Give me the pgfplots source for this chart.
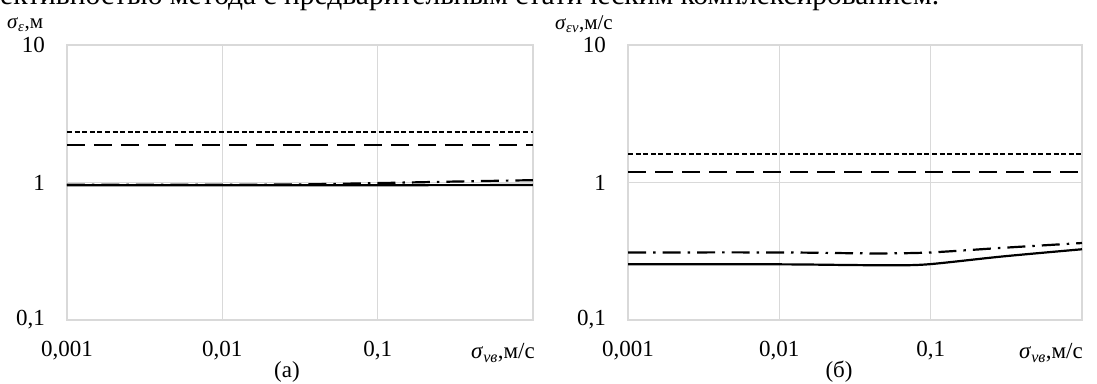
\documentclass[border=0pt]{standalone}
\usepackage{fontspec}
\setmainfont{Liberation Serif}
\usepackage{pgfplots}
\pgfplotsset{compat=1.18}
\definecolor{gridc}{HTML}{D9D9D9}
\newcommand{\tl}{\fontsize{23}{27}\selectfont}
\newcommand{\al}{\fontsize{21}{24}\selectfont}
\tikzset{
 sdot/.style={black, line width=2.2pt, dash pattern=on 5pt off 2.6pt},
 ldash/.style={black, line width=2.2pt, dash pattern=on 18pt off 9pt},
 ddot/.style={black, line width=2.2pt, dash pattern=on 18pt off 7pt on 2.5pt off 7pt},
 sline/.style={black, line width=2.2pt, solid},
}
\pgfplotsset{every axis/.append style={
 scale only axis, height=275pt,
 xmin=0.001, xmax=1, ymin=0.1, ymax=10,
 axis line style={draw=gridc, line width=1.2pt},
 grid=major, major grid style={draw=gridc, line width=1.2pt},
 xtick={0.001,0.01,0.1}, xticklabels={{0,001},{0,01},{0,1}},
 ytick={0.1,1,10}, yticklabels={{0,1},{1},{10}},
 minor xtick={}, minor ytick={},
 major tick length=0pt, minor tick length=0pt,
 tick style={draw=none},
 tick label style={font=\tl, inner sep=0pt},
 xticklabel style={anchor=center, yshift=-31pt},
 yticklabel style={anchor=east, xshift=-22pt},
}}
\begin{document}
\begin{tikzpicture}
\begin{loglogaxis}[width=466pt, at={(67pt,63pt)}, anchor=south west]
\addplot[sdot] coordinates {(0.001,2.33) (1,2.33)};
\addplot[ldash] coordinates {(0.001,1.88) (1,1.88)};
\addplot[ddot, smooth] coordinates {(0.001,0.965) (0.01,0.965) (0.03,0.968) (0.1,0.99) (0.3,1.015) (1,1.04)};
\addplot[sline] coordinates {(0.001,0.955) (0.01,0.955) (0.1,0.956) (1,0.958)};
\end{loglogaxis}
\begin{loglogaxis}[width=454pt, at={(628pt,63pt)}, anchor=south west]
\addplot[sdot] coordinates {(0.001,1.61) (1,1.61)};
\addplot[ldash] coordinates {(0.001,1.19) (1,1.19)};
\addplot[ddot, smooth] coordinates {(0.001,0.31) (0.01,0.31) (0.03,0.306) (0.05,0.305) (0.1,0.31) (0.3,0.335) (1,0.363)};
\addplot[sline, smooth] coordinates {(0.001,0.254) (0.01,0.254) (0.03,0.251) (0.06,0.25) (0.1,0.255) (0.3,0.29) (1,0.327)};
\end{loglogaxis}
\node[anchor=base west, font=\fontsize{29.5}{34}\selectfont, inner sep=0pt] at (0pt,378pt) {ективностью метода с предварительным статическим комплексированием.};
\node[anchor=west, font=\al, inner sep=0pt] at (7pt,358pt) {\textit{σ}\textsubscript{\textit{ε}},м};
\node[anchor=west, font=\al, inner sep=0pt] at (555pt,359pt) {\textit{σ}\textsubscript{\textit{εv}},м/с};
\node[anchor=east, font=\tl, inner sep=0pt] at (535pt,30pt) {\textit{σ}\textsubscript{\textit{vв}},м/с};
\node[anchor=east, font=\tl, inner sep=0pt] at (1083pt,30pt) {\textit{σ}\textsubscript{\textit{vв}},м/с};
\node[font=\tl, inner sep=0pt] at (287pt,11pt) {(а)};
\node[font=\tl, inner sep=0pt] at (839pt,11pt) {(б)};
\pgfresetboundingbox
\useasboundingbox (0pt,0pt) rectangle (1097pt,383pt);
\end{tikzpicture}
\end{document}
